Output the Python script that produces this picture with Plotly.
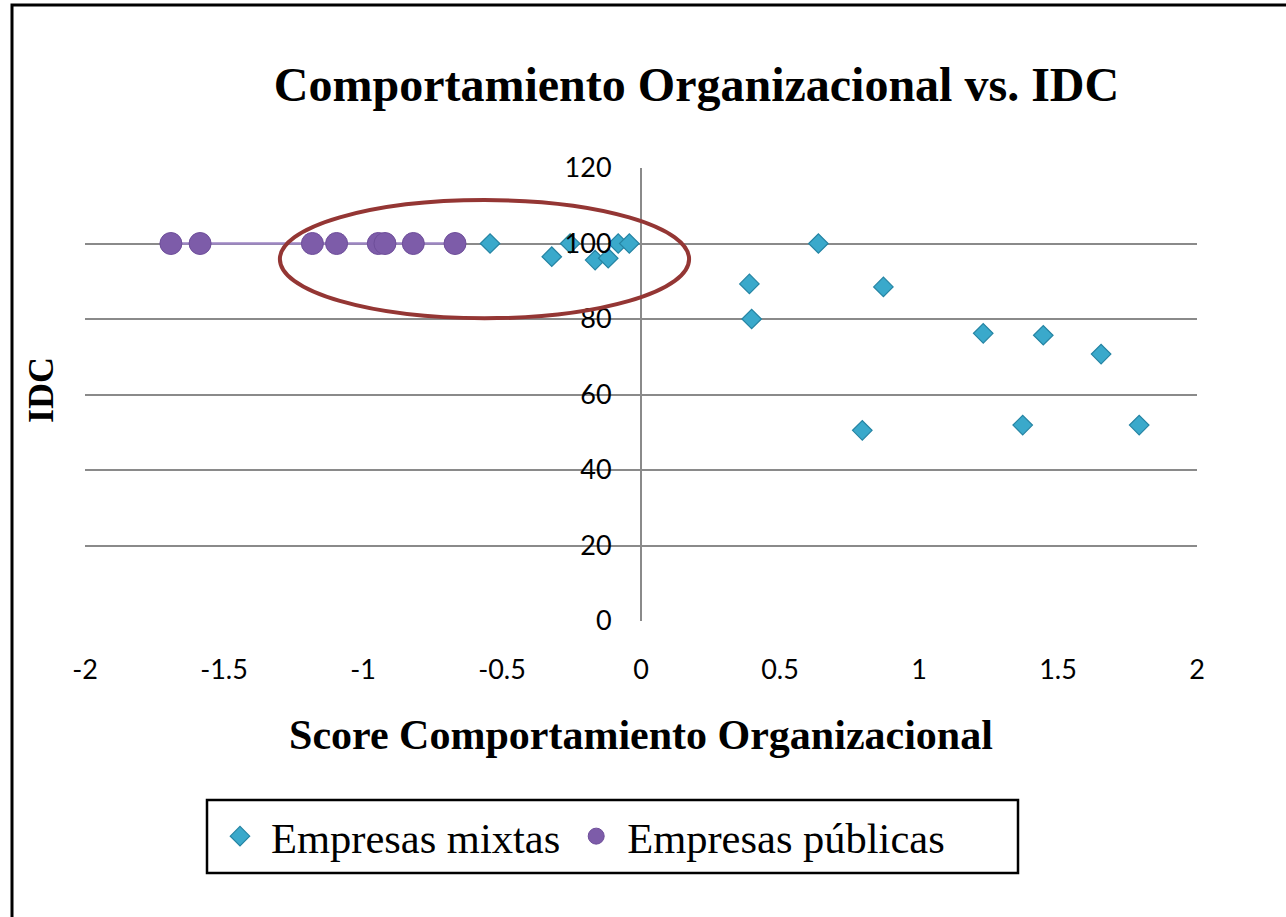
import plotly.graph_objects as go

# Data
mixtas_x = [-0.543, -0.321, -0.255, -0.165, -0.118, -0.082, -0.042,
            0.390, 0.398, 0.638, 0.796, 0.872, 1.231, 1.373, 1.447, 1.655, 1.792]
mixtas_y = [100.0, 96.5, 100.0, 95.6, 96.1, 100.0, 100.0,
            89.3, 80.0, 100.0, 50.5, 88.5, 76.2, 51.9, 75.7, 70.7, 51.9]

publicas_x = [-1.691, -1.586, -1.182, -1.095, -0.945, -0.921, -0.819, -0.669]
publicas_y = [100, 100, 100, 100, 100, 100, 100, 100]

x_ticks = [-2, -1.5, -1, -0.5, 0, 0.5, 1, 1.5, 2]
x_ticktext = ["-2", "-1.5", "-1", "-0.5", "0", "0.5", "1", "1.5", "2"]
y_ticks = [0, 20, 40, 60, 80, 100, 120]
y_ticktext = ["0", "20", "40", "60", "80", "100", "120"]

# highlighted region (ellipse annotation) in data units
ellipse_x = [-1.299, 0.173]
ellipse_y = [80.2, 111.5]

W, H = 1286, 917
L, R, T, B = 85, 89, 168, 296
pw, ph = W - L - R, H - T - B


def px_x(p):
    return (p - L) / pw


def px_y(p):
    return (H - B - p) / ph


fig = go.Figure()

fig.add_trace(go.Scatter(
    x=mixtas_x, y=mixtas_y, mode="markers", name="Empresas mixtas",
    marker=dict(symbol="diamond", size=15, color="#3AA9CB",
                line=dict(color="#2584A3", width=1.2)),
))
# connecting line of the public-company series (not in legend)
fig.add_trace(go.Scatter(
    x=publicas_x, y=publicas_y, mode="lines", showlegend=False, hoverinfo="skip",
    line=dict(color="#9C86C2", width=2.5),
))
fig.add_trace(go.Scatter(
    x=publicas_x, y=publicas_y, mode="markers", name="Empresas públicas",
    marker=dict(symbol="circle", size=22, color="#7D5CA9",
                line=dict(color="#6E4E9A", width=1)),
))

serif = "Liberation Serif, Times New Roman, serif"
sans = "Lato, Carlito, Calibri, sans-serif"

ITEMW = 52

fig.update_layout(
    width=W, height=H,
    margin=dict(l=L, r=R, t=T, b=B, pad=0),
    paper_bgcolor="white", plot_bgcolor="white",
    title=dict(text="<b>Comportamiento Organizacional vs. IDC</b>",
               x=696.5 / W, xanchor="center", xref="container",
               y=1 - 84 / H, yanchor="middle", yref="container",
               font=dict(family=serif, size=48, color="black")),
    xaxis=dict(range=[-2, 2], tickvals=x_ticks, ticktext=x_ticktext,
               showgrid=False, zeroline=False, showline=False, ticks="",
               ticklabelstandoff=30,
               tickfont=dict(family=sans, size=27, color="black"),
               title=dict(text="<b>Score Comportamiento Organizacional</b>",
                          font=dict(family=serif, size=42, color="black"),
                          standoff=35)),
    yaxis=dict(range=[0, 120], tickvals=y_ticks, ticktext=y_ticktext,
               anchor="free", position=0.5,
               showgrid=True, gridcolor="#8A8A8A", gridwidth=2,
               zeroline=False, showline=True, linecolor="#8A8A8A", linewidth=2,
               ticks="", ticklabelstandoff=23,
               tickfont=dict(family=sans, size=27, color="black")),
    showlegend=True,
    legend=dict(orientation="h", x=px_x(240 - 5 - ITEMW / 2), xanchor="left",
                y=px_y(836.5), yanchor="middle",
                font=dict(family=serif, size=42.5, color="black"),
                borderwidth=0, bgcolor="rgba(0,0,0,0)",
                itemwidth=ITEMW, itemsizing="trace"),
)

# Legend frame
fig.add_shape(type="rect", xref="paper", yref="paper",
              x0=px_x(207), x1=px_x(1018), y0=px_y(873), y1=px_y(800),
              line=dict(color="black", width=2.5), layer="below")

# Y axis title placed at left of the chart (axis itself crosses at x=0)
fig.add_annotation(text="<b>IDC</b>", xref="paper", yref="paper",
                   x=px_x(41), y=px_y(390),
                   xanchor="center", yanchor="middle", textangle=-90,
                   showarrow=False,
                   font=dict(family=serif, size=36, color="black"))

# Highlight ellipse
fig.add_shape(type="circle", xref="x", yref="y",
              x0=ellipse_x[0], x1=ellipse_x[1], y0=ellipse_y[0], y1=ellipse_y[1],
              line=dict(color="#943634", width=4), layer="above")

# Outer chart frame (partly cropped in the reference)
fig.add_shape(type="rect", xref="paper", yref="paper",
              x0=px_x(12), x1=px_x(W + 20),
              y0=px_y(H + 20), y1=px_y(5),
              line=dict(color="black", width=3), layer="below")

fig.write_html("out.html", config={"displayModeBar": False},
               post_script="document.body.style.margin='0px';")
